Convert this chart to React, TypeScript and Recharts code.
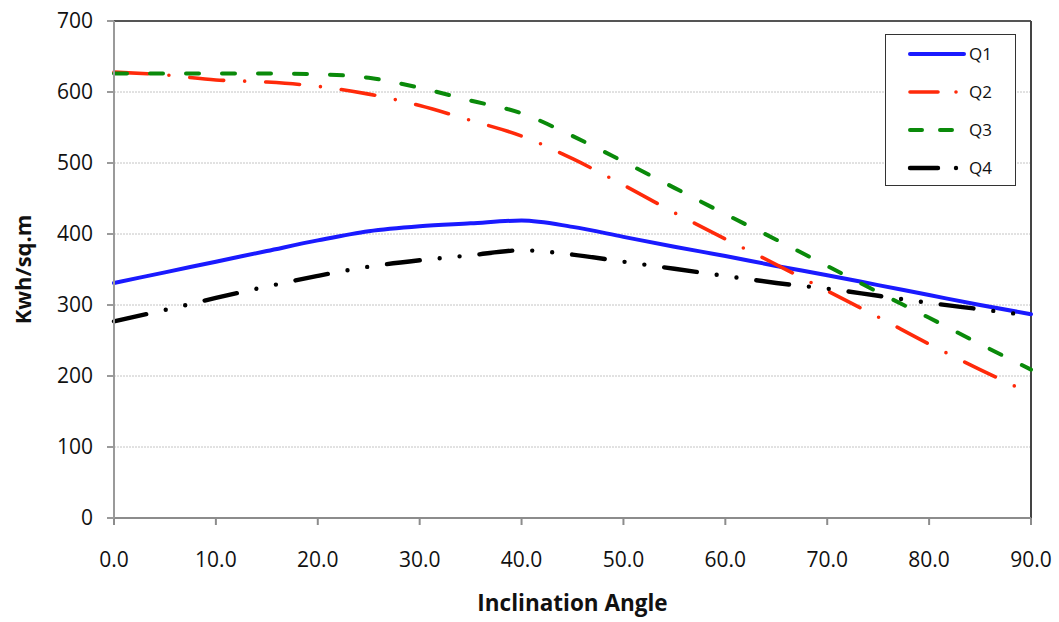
import React from 'react';
import { LineChart, Line, XAxis, YAxis, CartesianGrid, ReferenceLine, Legend, Label } from 'recharts';

const angles = [0, 5, 10, 15, 20, 25, 30, 35, 40, 45, 50, 55, 60, 65, 70, 75, 80, 85, 90];
const q1 = [331, 346, 361, 376, 391, 404, 411, 415, 419, 410, 396, 382, 369, 355, 342, 328, 314, 300, 287];
const q2 = [628, 624, 617, 614, 608, 597, 581, 560, 538, 506, 469, 430, 393, 357, 320, 283, 245, 209, 175];
const q3 = [626, 626, 626, 626, 625, 620, 606, 588, 570, 538, 502, 465, 428, 392, 355, 318, 282, 245, 209];
const q4 = [277, 293, 310, 326, 341, 354, 363, 370, 377, 371, 361, 351, 341, 331, 323, 313, 303, 294, 285];
const xTicks = [0, 10, 20, 30, 40, 50, 60, 70, 80, 90];
const yTicks = [0, 100, 200, 300, 400, 500, 600, 700];
const seriesNames = ['Q1', 'Q2', 'Q3', 'Q4'];

const data = angles.map((a, i) => ({ angle: a, Q1: q1[i], Q2: q2[i], Q3: q3[i], Q4: q4[i] }));

const styles: Record<string, { color: string; width: number; dash?: string; legendDash?: string }> = {
  Q1: { color: '#1a1aff', width: 4 },
  Q2: { color: '#ff2a0a', width: 3.6, dash: '34 21 0 21', legendDash: '28 18 0 100' },
  Q3: { color: '#0a8a0a', width: 4, dash: '13 23', legendDash: '12 18' },
  Q4: { color: '#000000', width: 4.4, dash: '33 20 0 20 0 20', legendDash: '28 18 0 100' },
};

const font = '"Open Sans", "Liberation Sans", sans-serif';

const renderLegend = (props: any) => {
  const payload = props.payload || [];
  return (
    <div
      style={{
        width: 131,
        height: 152,
        border: '1.5px solid #333',
        background: '#fff',
        boxSizing: 'border-box',
        position: 'relative',
      }}
    >
      <svg width={131} height={152} style={{ position: 'absolute', left: 0, top: 0 }}>
        {payload.map((p: any, i: number) => {
          const s = styles[p.dataKey as string] || styles.Q1;
          const y = 19 + i * 38;
          return (
            <g key={String(p.dataKey)}>
              <line
                x1={24}
                x2={78}
                y1={y}
                y2={y}
                stroke={s.color}
                strokeWidth={s.width}
                strokeLinecap="round"
                strokeDasharray={s.legendDash}
              />
              <text x={83} y={y + 6} fontFamily={font} fontSize={17} fill="#111">
                {p.value}
              </text>
            </g>
          );
        })}
      </svg>
    </div>
  );
};

const YTitle = (props: any) => {
  const vb = props.viewBox || { x: 0, y: 0, width: 0, height: 0 };
  const cx = vb.x + 22;
  const cy = vb.y + vb.height / 2;
  return (
    <text
      x={cx}
      y={cy}
      transform={`rotate(-90, ${cx}, ${cy})`}
      textAnchor="middle"
      dominantBaseline="central"
      fontFamily={font}
      fontWeight="bold"
      fontSize={22}
      fill="#111"
    >
      Kwh/sq.m
    </text>
  );
};

export default function App() {
  return (
    <div style={{ position: 'absolute', left: 0, top: 0, width: 1059, height: 622, background: '#fff' }}>
      <LineChart width={1059} height={622} data={data} margin={{ top: 21, right: 28, bottom: 0, left: 0 }}>
        <CartesianGrid vertical={false} stroke="#c4c4c4" strokeDasharray="2 1" />
        <XAxis
          dataKey="angle"
          type="number"
          domain={[0, 90]}
          ticks={xTicks}
          tickFormatter={(v: number) => v.toFixed(1)}
          height={104}
          tickSize={7}
          tickMargin={27}
          stroke="#8c8c8c"
          strokeWidth={2}
          tick={{ fill: '#111', fontSize: 21, fontFamily: font }}
          interval={0}
        >
          <Label
            value="Inclination Angle"
            position="insideBottom"
            offset={11}
            style={{ fontFamily: font, fontWeight: 'bold', fontSize: 22.5, fill: '#111' }}
          />
        </XAxis>
        <YAxis
          type="number"
          domain={[0, 700]}
          ticks={yTicks}
          width={114}
          tickSize={7}
          tickMargin={14}
          stroke="#9a9a9a"
          strokeWidth={2}
          tick={{ fill: '#111', fontSize: 21, fontFamily: font }}
          interval={0}
        >
          <Label content={<YTitle />} />
        </YAxis>
        <ReferenceLine y={700} stroke="#555" strokeWidth={2} />
        <ReferenceLine x={90} stroke="#444" strokeWidth={2} />
        {seriesNames.map((k) => (
          <Line
            key={k}
            dataKey={k}
            name={k}
            type="monotone"
            stroke={styles[k].color}
            strokeWidth={styles[k].width}
            strokeDasharray={styles[k].dash}
            strokeLinecap="round"
            dot={false}
            activeDot={false}
            isAnimationActive={false}
          />
        ))}
        <Legend
          layout="vertical"
          align="center"
          verticalAlign="middle"
          content={renderLegend}
          wrapperStyle={{ position: 'absolute', left: 885, top: 34, width: 131, height: 152 }}
        />
      </LineChart>
    </div>
  );
}
